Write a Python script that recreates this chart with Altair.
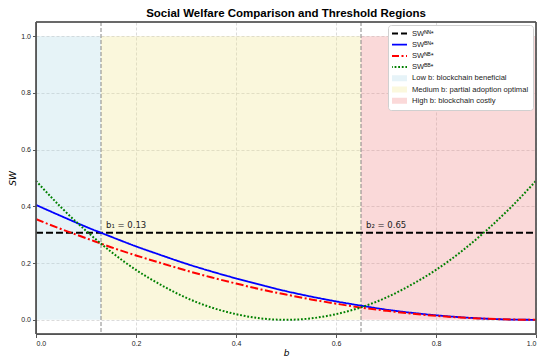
import altair as alt
import pandas as pd

# ---- data ----
b_vals = [0.00, 0.05, 0.10, 0.15, 0.20, 0.25, 0.30, 0.35, 0.40, 0.45, 0.50,
          0.55, 0.60, 0.65, 0.70, 0.75, 0.80, 0.85, 0.90, 0.95, 1.00]
sw_nn = [0.307] * 21
sw_bn = [0.405, 0.366, 0.328, 0.293, 0.259, 0.228, 0.198, 0.171, 0.146, 0.123, 0.101,
         0.082, 0.065, 0.050, 0.036, 0.025, 0.016, 0.009, 0.004, 0.001, 0.000]
sw_nb = [0.355, 0.320, 0.288, 0.256, 0.227, 0.200, 0.174, 0.150, 0.128, 0.107, 0.089,
         0.072, 0.057, 0.043, 0.032, 0.022, 0.014, 0.008, 0.004, 0.001, 0.000]
sw_bb = [0.490, 0.397, 0.314, 0.240, 0.176, 0.123, 0.078, 0.044, 0.020, 0.005, 0.000,
         0.005, 0.020, 0.044, 0.078, 0.123, 0.176, 0.240, 0.314, 0.397, 0.490]

series_names = ["SWᴺᴺ*", "SWᴮᴺ*", "SWᴺᴮ*", "SWᴮᴮ*"]
region_names = ["Low b: blockchain beneficial",
                "Medium b: partial adoption optimal",
                "High b: blockchain costly"]
region_start = [0.0, 0.13, 0.65]
region_end = [0.13, 0.65, 1.0]
thresholds = [0.13, 0.65]
threshold_labels = ["b₁ = 0.13", "b₂ = 0.65"]
label_y = [0.322, 0.322]

line_colors = ["#000000", "#0000ff", "#ff0000", "#008000"]
region_base = ["#add8e6", "#f0e68c", "#f08080"]
region_legend = ["#e6f3f8", "#fbf8dd", "#fbd9d9"]

# ---- tables ----
rows = []
for name, vals in zip(series_names, [sw_nn, sw_bn, sw_nb, sw_bb]):
    for b, v in zip(b_vals, vals):
        rows.append({"b": b, "sw": v, "series": name})
lines_df = pd.DataFrame(rows)
regions_df = pd.DataFrame({"region": region_names, "start": region_start, "end": region_end})
thr_df = pd.DataFrame({"b": thresholds, "label": threshold_labels,
                       "ly": label_y, "lx": [t + 0.01 for t in thresholds]})

all_names = series_names + region_names
W, H = 500, 312

xscale = alt.Scale(domain=[0, 1], nice=False, zero=False)
yscale = alt.Scale(domain=[-0.05, 1.05], nice=False, zero=False)

leg = alt.Legend(title=None, orient="top-right", offset=3, fillColor="white",
                 strokeColor="#d0d0d0", cornerRadius=3, padding=4,
                 symbolType="M-5,0H11", symbolSize=4, labelFont="Liberation Sans",
                 labelFontSize=7.6, labelColor="#222", rowPadding=2.2, labelOffset=12,
                 clipHeight=9)

regions = alt.Chart(regions_df).mark_rect(fillOpacity=0.3).encode(
    x=alt.X("start:Q", scale=xscale,
            axis=alt.Axis(title="b", values=[0, 0.2, 0.4, 0.6, 0.8, 1.0], format=".1f",
                          titleFontStyle="italic", titleFont="DejaVu Sans",
                          titleFontWeight="normal", titleFontSize=9, titlePadding=2)),
    x2="end:Q",
    y=alt.datum(0, scale=yscale,
                axis=alt.Axis(title="SW", values=[0, 0.2, 0.4, 0.6, 0.8, 1.0], format=".1f",
                              titleFontStyle="italic", titleFont="DejaVu Sans",
                              titleFontWeight="normal", titleFontSize=9, titlePadding=3)),
    y2=alt.datum(1),
    fill=alt.Fill("region:N", scale=alt.Scale(domain=region_names, range=region_base), legend=None),
)

vlines = alt.Chart(thr_df).mark_rule(color="#888888", strokeDash=[4, 2], strokeWidth=1).encode(
    x=alt.X("b:Q", scale=xscale)
)

lines = alt.Chart(lines_df).mark_line(interpolate="monotone").encode(
    x=alt.X("b:Q", scale=xscale),
    y=alt.Y("sw:Q", scale=yscale),
    color=alt.Color("series:N", scale=alt.Scale(domain=all_names, range=line_colors + region_legend), legend=leg),
    strokeDash=alt.StrokeDash("series:N", scale=alt.Scale(
        domain=all_names,
        range=[[7, 3], [1, 0], [8, 2.5, 2, 2.5], [1.8, 1.8], [1, 0], [1, 0], [1, 0]]), legend=leg),
    strokeWidth=alt.StrokeWidth("series:N", scale=alt.Scale(
        type="ordinal", domain=all_names, range=[2, 1.8, 2, 2, 6, 6, 6]), legend=leg),
)

texts = alt.Chart(thr_df).mark_text(align="left", baseline="alphabetic", font="DejaVu Sans",
                                    fontSize=8.5, color="#222").encode(
    x=alt.X("lx:Q", scale=xscale),
    y=alt.Y("ly:Q", scale=yscale),
    text="label:N",
)

frame = alt.Chart(regions_df).mark_rect(fill=None, stroke="#555555", strokeWidth=1).encode(
    x=alt.value(0), x2=alt.value(W), y=alt.value(0), y2=alt.value(H)
)

chart = alt.layer(regions, vlines, lines, texts, frame).properties(
    width=W, height=H,
    title=alt.Title("Social Welfare Comparison and Threshold Regions", font="Liberation Sans",
                    fontSize=11.5, fontWeight="bold", anchor="middle", frame="group",
                    offset=2, color="#000"),
    autosize=alt.AutoSizeParams(type="none"),
    padding={"left": 28, "top": 14, "right": 5, "bottom": 29},
).configure_view(stroke=None).configure_axis(
    grid=True, gridColor="#cccccc", gridDash=[3, 2], gridWidth=0.7,
    domainColor="#555555", tickColor="#555555", tickSize=3.5,
    labelFont="Liberation Sans", labelFontSize=7, labelColor="#222", labelPadding=2,
    titleColor="#000"
)

chart.save("out.html", embed_options={"renderer": "svg", "actions": False})
